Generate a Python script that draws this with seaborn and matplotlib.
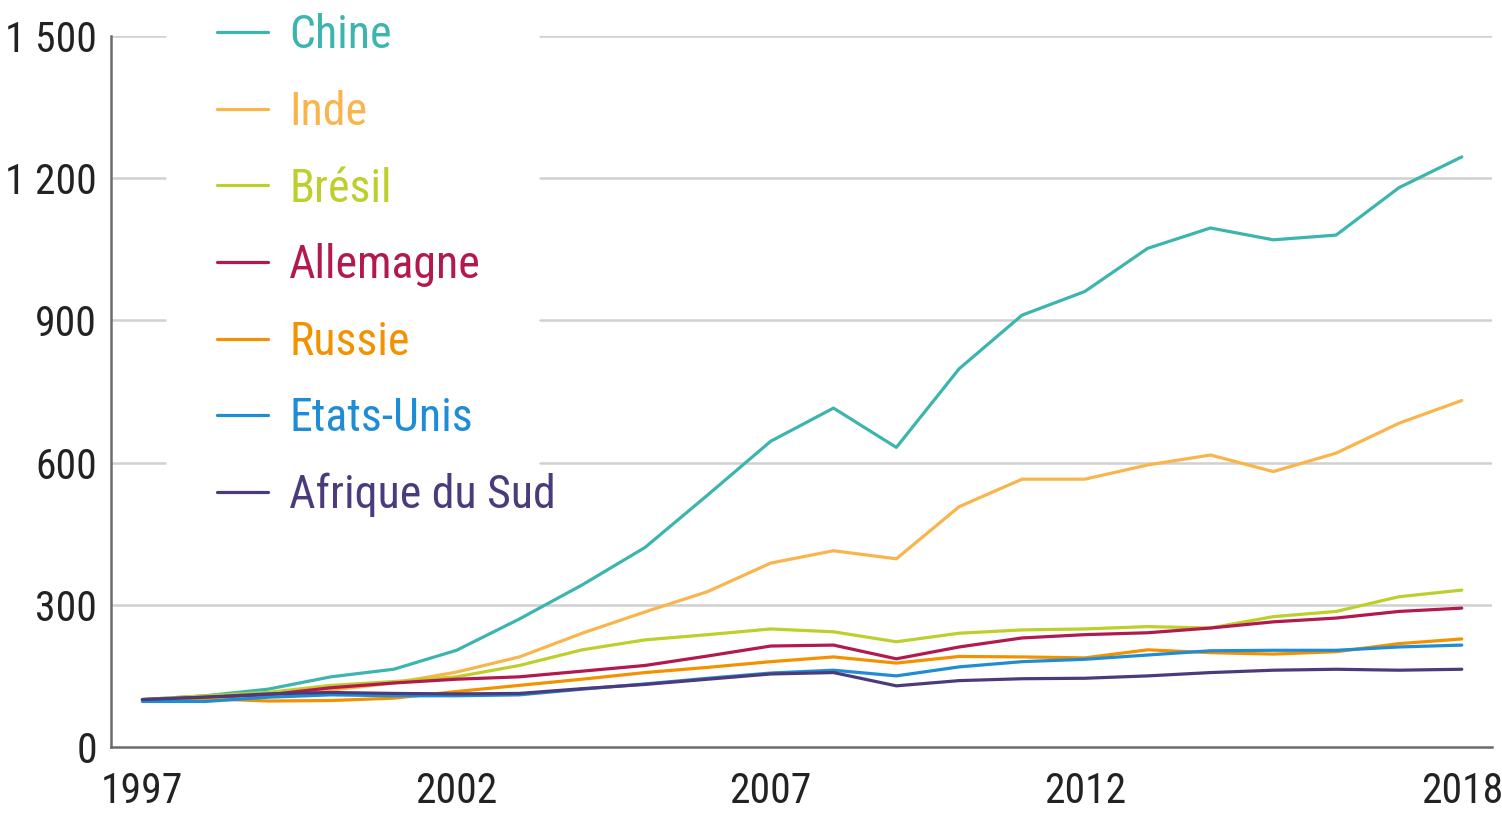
import pandas as pd
import matplotlib
matplotlib.use("Agg")
import matplotlib.pyplot as plt
from matplotlib import font_manager
import seaborn as sns

# Data (index)
years = list(range(1997, 2019))
chine = [100, 108, 122, 148, 164, 204, 270, 342, 421, 532, 645, 715, 632, 798, 911, 961, 1052, 1095, 1070, 1080, 1180, 1245]
inde = [100, 104, 110, 120, 135, 158, 190, 240, 285, 328, 388, 414, 397, 507, 565, 565, 595, 616, 581, 620, 683, 731]
bresil = [100, 108, 115, 130, 138, 148, 172, 205, 226, 237, 249, 243, 222, 240, 247, 249, 254, 251, 275, 286, 317, 331]
allemagne = [100, 105, 110, 125, 135, 143, 148, 160, 172, 192, 213, 215, 186, 211, 230, 237, 241, 251, 264, 272, 286, 293]
russie = [100, 102, 97, 98, 103, 117, 130, 143, 157, 168, 180, 190, 177, 191, 190, 188, 205, 199, 196, 201, 218, 228]
etats_unis = [96, 96, 105, 110, 108, 108, 110, 122, 133, 145, 156, 162, 150, 169, 180, 185, 194, 203, 204, 204, 211, 215]
afrique_sud = [100, 105, 112, 115, 113, 112, 113, 123, 132, 143, 154, 157, 129, 140, 144, 145, 150, 157, 162, 164, 162, 164]

countries = ["Chine", "Inde", "Brésil", "Allemagne", "Russie", "Etats-Unis", "Afrique du Sud"]
series = [chine, inde, bresil, allemagne, russie, etats_unis, afrique_sud]
colors = ["#3bb5ae", "#f9b54c", "#bccf2b", "#b3184e", "#f39200", "#1f8dd6", "#4b3b7c"]

x_ticks = [1997, 2002, 2007, 2012, 2018]
y_ticks = [0, 300, 600, 900, 1200, 1500]
y_labels = ["0", "300", "600", "900", "1 200", "1 500"]

df = pd.DataFrame({
    "annee": years * len(countries),
    "pays": [c for c in countries for _ in years],
    "valeur": [v for s in series for v in s],
})

sns.set_style("white")

# pick a narrow font if one is installed
names = {f.name for f in font_manager.fontManager.ttflist}
family = "DejaVu Sans"
for cand in ["Roboto Condensed", "DejaVu Sans Condensed", "Liberation Sans Narrow", "Open Sans Condensed"]:
    if cand in names:
        family = cand
        break
plt.rcParams["font.family"] = [family, "DejaVu Sans"]
plt.rcParams["font.stretch"] = "condensed"

fig = plt.figure(figsize=(15.02, 8.13), dpi=100)
ax = fig.add_axes([0.0739, 0.0812, 0.9194, 0.8745])

# gridlines, broken where the legend sits
for yv in y_ticks[1:]:
    if yv == 300:
        ax.axhline(yv, color="#d0d0d0", lw=1.8, zorder=0)
    else:
        ax.axhline(yv, xmin=0, xmax=0.039, color="#d0d0d0", lw=1.8, zorder=0)
        ax.axhline(yv, xmin=0.311, xmax=1, color="#d0d0d0", lw=1.8, zorder=0)

sns.lineplot(data=df, x="annee", y="valeur", hue="pays", hue_order=countries,
             palette=colors, linewidth=2.3, ax=ax, legend=True)

ax.set_xlim(1996.5, 2018.48)
ax.set_ylim(0, 1500)
ax.set_xticks(x_ticks)
ax.set_xticklabels([str(t) for t in x_ticks])
ax.set_yticks(y_ticks)
ax.set_yticklabels(y_labels)
ax.tick_params(axis="x", length=0, pad=17, labelsize=30, colors="#222222")
ax.tick_params(axis="y", length=0, pad=10, labelsize=30, colors="#222222")
ax.set_xlabel("")
ax.set_ylabel("")

for side in ["top", "right"]:
    ax.spines[side].set_visible(False)
for side in ["left", "bottom"]:
    ax.spines[side].set_color("#6b6b6b")
    ax.spines[side].set_linewidth(1.8)

handles, labels = ax.get_legend_handles_labels()
leg = ax.legend(handles, labels, loc="upper left", bbox_to_anchor=(0.1323, 1.006),
                bbox_transform=fig.transFigure, frameon=False, fontsize=33,
                handlelength=1.11, handletextpad=0.46, labelspacing=0.71,
                borderaxespad=0)
for line in leg.get_lines():
    line.set_linewidth(2.3)
for text, col in zip(leg.get_texts(), colors):
    text.set_color(col)

fig.savefig("out.png", dpi=100)
